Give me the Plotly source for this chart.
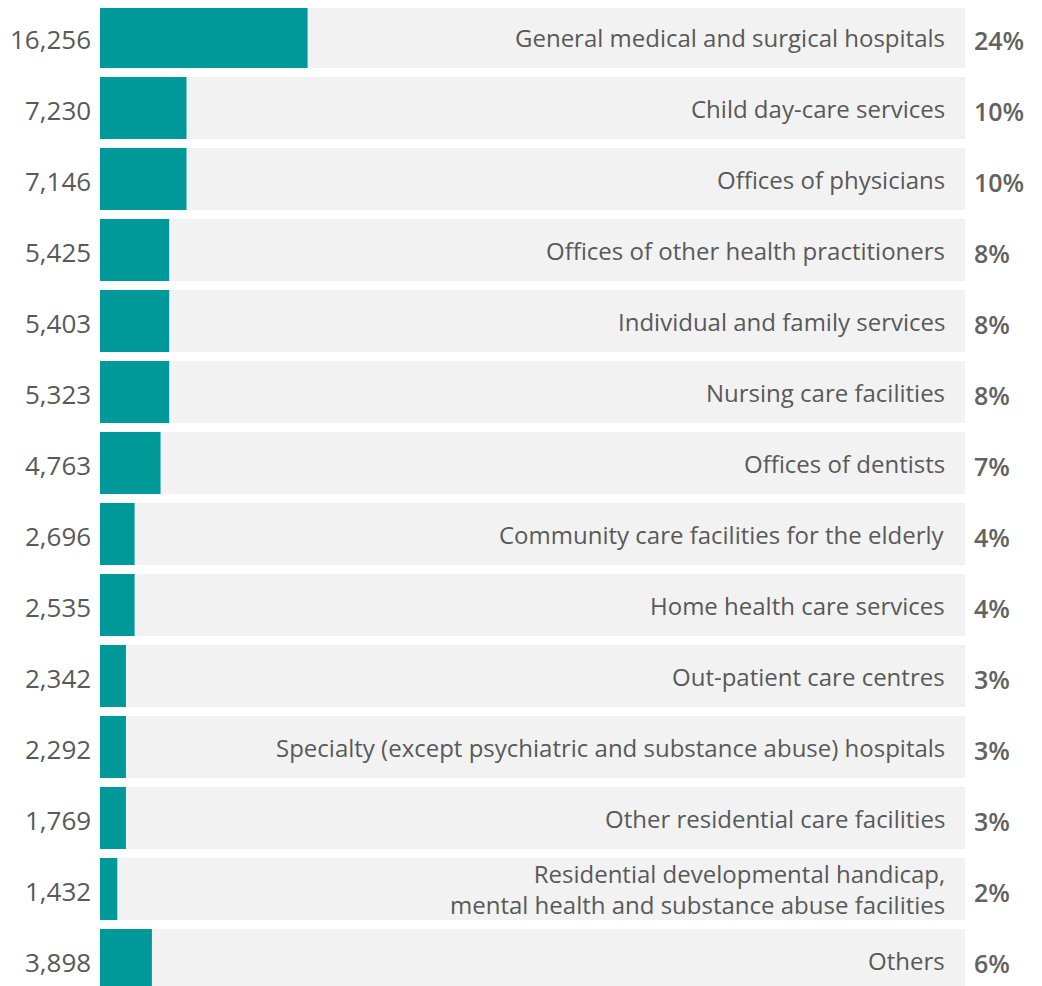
import plotly.graph_objects as go

categories = [
    "General medical and surgical hospitals",
    "Child day-care services",
    "Offices of physicians",
    "Offices of other health practitioners",
    "Individual and family services",
    "Nursing care facilities",
    "Offices of dentists",
    "Community care facilities for the elderly",
    "Home health care services",
    "Out-patient care centres",
    "Specialty (except psychiatric and substance abuse) hospitals",
    "Other residential care facilities",
    "Residential developmental handicap,<br>mental health and substance abuse facilities",
    "Others",
]
counts = [16256, 7230, 7146, 5425, 5403, 5323, 4763, 2696, 2535, 2342, 2292, 1769, 1432, 3898]
percents = [24, 10, 10, 8, 8, 8, 7, 4, 4, 3, 3, 3, 2, 6]
total_pct = 100

TEAL = "#009999"
BG = "#f2f2f2"
TXT = "#595959"
FONT = "Open Sans"

ypos = list(range(len(categories)))

fig = go.Figure()
fig.add_trace(go.Bar(
    y=ypos, x=[total_pct] * len(ypos), orientation="h",
    marker=dict(color=BG, line=dict(width=0)), hoverinfo="skip", showlegend=False,
))
fig.add_trace(go.Bar(
    y=ypos, x=percents, orientation="h",
    marker=dict(color=TEAL, line=dict(width=0)), showlegend=False,
    customdata=counts, hovertemplate="%{customdata:,}<extra></extra>",
))

annotations = []
for y, cat, c, p in zip(ypos, categories, counts, percents):
    annotations.append(dict(
        x=0, y=y, xref="paper", yref="y", text=f"{c:,}", showarrow=False,
        xanchor="right", yanchor="middle", xshift=-7, yshift=-2,
        font=dict(family=FONT, size=26, color=TXT),
    ))
    annotations.append(dict(
        x=total_pct, y=y, xref="x", yref="y", text=cat, showarrow=False,
        xanchor="right", yanchor="middle", xshift=-18, align="right",
        font=dict(family=FONT, size=24, color=TXT),
    ))
    annotations.append(dict(
        x=1, y=y, xref="paper", yref="y", text=f"{p}%", showarrow=False,
        xanchor="left", yanchor="middle", xshift=7, yshift=-3,
        font=dict(family=FONT, size=25, color="#626262", weight=600),
    ))

# page body has an 8px margin; the figure is sized to fill the rest of the window
px_per_row = 71
bar_px = 62
first_bar_top = -2   # relative to figure top (page y = 6)
fig_w, fig_h = 1034, 978
top_val = -(bar_px / 2) / px_per_row - first_bar_top / px_per_row
bottom_val = top_val + fig_h / px_per_row

fig.update_layout(
    width=fig_w, height=fig_h,
    margin=dict(l=92, r=77, t=0, b=0, pad=0),
    barmode="overlay",
    bargap=(px_per_row - bar_px) / px_per_row,
    plot_bgcolor="white", paper_bgcolor="white",
    xaxis=dict(range=[0, total_pct], visible=False, fixedrange=True),
    yaxis=dict(range=[bottom_val, top_val], visible=False, fixedrange=True),
    annotations=annotations,
    font=dict(family=FONT, color=TXT),
)

fig.write_html("out.html")
